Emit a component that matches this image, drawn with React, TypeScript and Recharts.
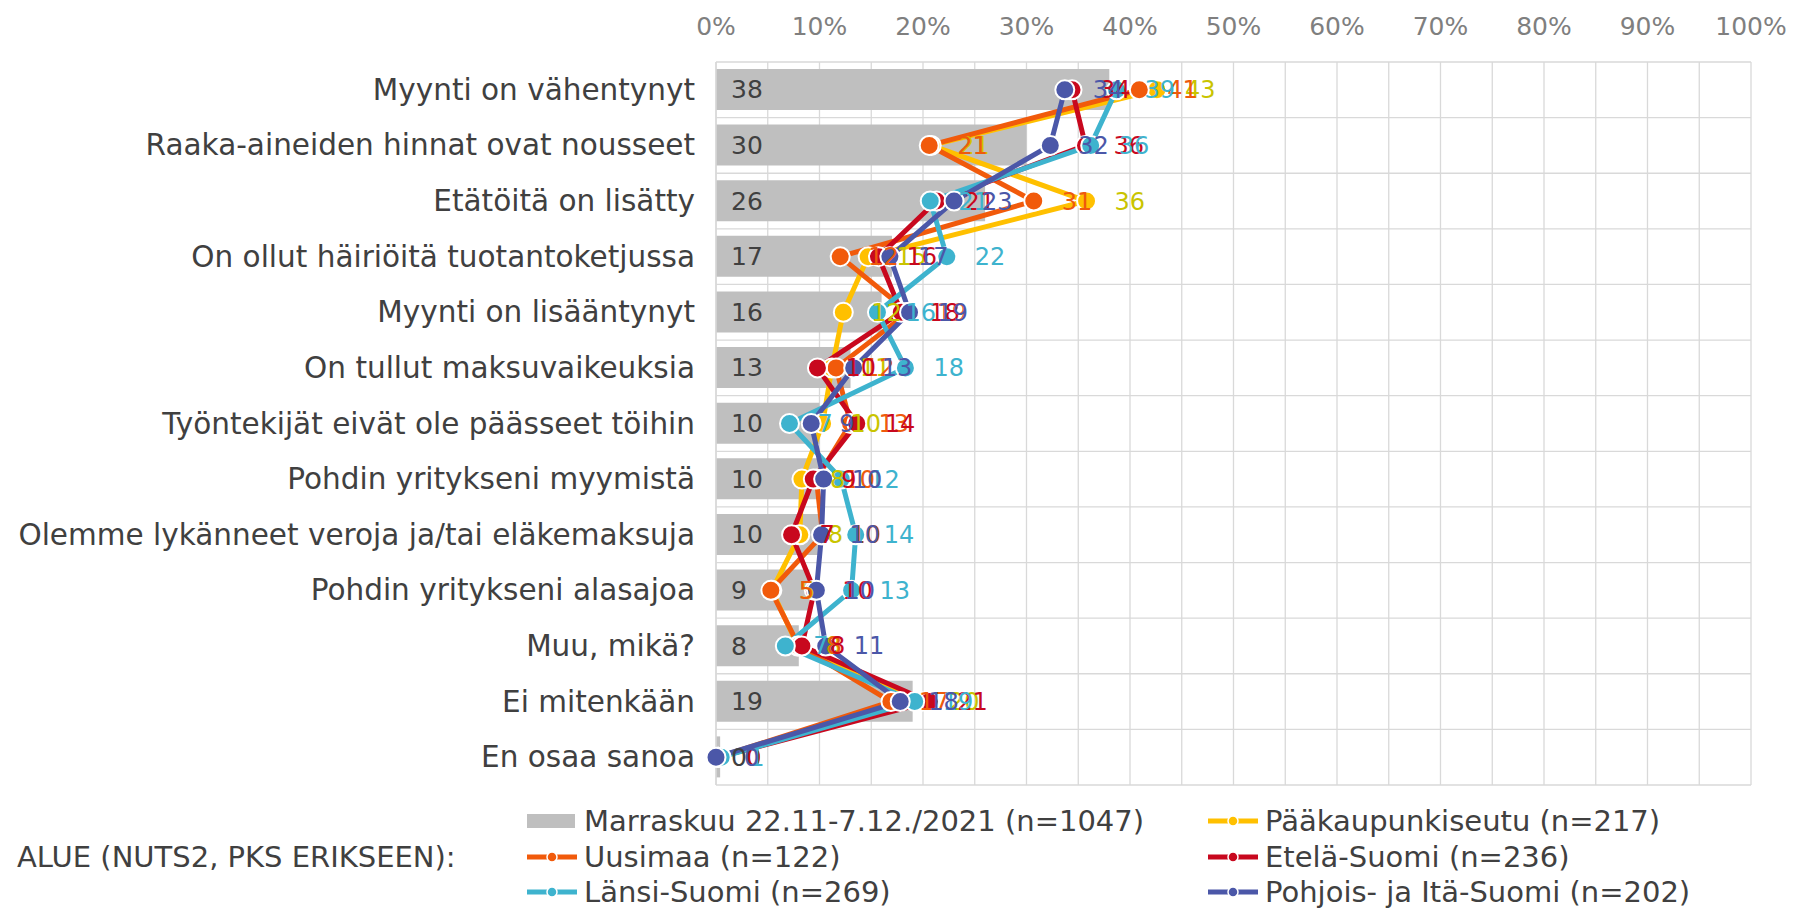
import { ComposedChart, Bar, Line, XAxis, YAxis, CartesianGrid, LabelList } from 'recharts';

const categories = [
  'Myynti on vähentynyt',
  'Raaka-aineiden hinnat ovat nousseet',
  'Etätöitä on lisätty',
  'On ollut häiriöitä tuotantoketjussa',
  'Myynti on lisääntynyt',
  'On tullut maksuvaikeuksia',
  'Työntekijät eivät ole päässeet töihin',
  'Pohdin yritykseni myymistä',
  'Olemme lykänneet veroja ja/tai eläkemaksuja',
  'Pohdin yritykseni alasajoa',
  'Muu, mikä?',
  'Ei mitenkään',
  'En osaa sanoa',
];

// koko aineisto (palkit)
const marraskuu = [38, 30, 26, 17, 16, 13, 10, 10, 10, 9, 8, 19, 0.4];
// alueet (viivat)
const paakaupunkiseutu = [42.6, 20.8, 35.8, 14.7, 12.3, 11.2, 10.3, 8.3, 8.1, 5.4, 7.9, 19.8, 0.2];
const uusimaa = [40.9, 20.6, 30.7, 12.0, 18.6, 11.6, 13.0, 9.7, 10.3, 5.3, 8.0, 16.9, 0.2];
const etelaSuomi = [34.4, 35.7, 21.3, 15.7, 17.9, 9.8, 13.6, 9.4, 7.3, 9.5, 8.3, 20.6, 0.2];
const lansiSuomi = [38.7, 36.2, 20.7, 22.3, 15.6, 18.3, 7.1, 12.1, 13.5, 13.1, 6.7, 19.2, 0.5];
const pohjoisItaSuomi = [33.7, 32.3, 23.0, 16.8, 18.7, 13.3, 9.2, 10.4, 10.2, 9.7, 10.6, 17.8, 0];

const xTicks = [0, 5, 10, 15, 20, 25, 30, 35, 40, 45, 50, 55, 60, 65, 70, 75, 80, 85, 90, 95, 100];

const FONT = '"DejaVu Sans", Verdana, sans-serif';
const TEXT = '#404040';

const series = [
  { key: 'pks', name: 'Pääkaupunkiseutu (n=217)', values: paakaupunkiseutu, color: '#FFC000', label: '#C9C400' },
  { key: 'uus', name: 'Uusimaa (n=122)', values: uusimaa, color: '#F15A0B', label: '#EE5A0C' },
  { key: 'ete', name: 'Etelä-Suomi (n=236)', values: etelaSuomi, color: '#C8081E', label: '#C8081E' },
  { key: 'lan', name: 'Länsi-Suomi (n=269)', values: lansiSuomi, color: '#3EB3CE', label: '#3EB3CE' },
  { key: 'poh', name: 'Pohjois- ja Itä-Suomi (n=202)', values: pohjoisItaSuomi, color: '#4B57A8', label: '#4B57A8' },
];

const data = categories.map((name, i) => {
  const row: Record<string, string | number> = { name, all: marraskuu[i] };
  series.forEach((s) => {
    row[s.key] = s.values[i];
  });
  return row;
});

const fmt = (v: any) => String(Math.round(Number(v)));

function CategoryTick({ x, y, payload }: any) {
  return (
    <text x={x} y={y} dy={10} textAnchor="end" fill={TEXT} fontSize={29.5} fontFamily={FONT}>
      {payload.value}
    </text>
  );
}

function Swatch({ color, bar }: { color: string; bar?: boolean }) {
  return (
    <svg width={52} height={18} style={{ display: 'block' }}>
      {bar ? (
        <rect x={0} y={2} width={48} height={14} fill="#BFBFBF" />
      ) : (
        <g>
          <line x1={0} y1={9} x2={50} y2={9} stroke={color} strokeWidth={5} />
          <circle cx={25} cy={9} r={5} fill={color} stroke="#fff" strokeWidth={1.5} />
        </g>
      )}
    </svg>
  );
}

function LegendItem({ left, top, color, text, bar }: any) {
  return (
    <div
      style={{
        position: 'absolute',
        left,
        top: top - 18,
        height: 36,
        display: 'flex',
        alignItems: 'center',
        whiteSpace: 'nowrap',
      }}
    >
      <Swatch color={color} bar={bar} />
      <span style={{ marginLeft: 5, fontSize: 29, color: TEXT, fontFamily: FONT }}>{text}</span>
    </div>
  );
}

export default function App() {
  return (
    <div style={{ position: 'absolute', left: 0, top: 0, width: 1796, height: 910, background: '#fff', fontFamily: FONT }}>
      <ComposedChart
        width={1796}
        height={800}
        data={data}
        layout="vertical"
        margin={{ top: 0, right: 45, bottom: 15, left: 0 }}
      >
        <CartesianGrid
          stroke="#D9D9D9"
          strokeWidth={1.3}
          horizontalCoordinatesGenerator={({ offset }: any) =>
            Array.from({ length: categories.length + 1 }, (_, i) => offset.top + (i * offset.height) / categories.length)
          }
        />
        <XAxis
          type="number"
          orientation="top"
          domain={[0, 100]}
          ticks={xTicks}
          interval={0}
          height={62}
          axisLine={false}
          tickLine={false}
          tickSize={0}
          tickMargin={27}
          tick={{ fill: '#7F7F7F', fontSize: 25, fontFamily: FONT }}
          tickFormatter={(v) => (v % 10 === 0 ? `${v}%` : '')}
        />
        <YAxis
          type="category"
          dataKey="name"
          width={716}
          axisLine={{ stroke: '#D9D9D9', strokeWidth: 1.5 }}
          tickLine={false}
          tickSize={0}
          tickMargin={21}
          interval={0}
          tick={<CategoryTick />}
        />
        <Bar dataKey="all" fill="#BFBFBF" barSize={41} isAnimationActive={false}>
          <LabelList
            dataKey="all"
            position="insideLeft"
            offset={15}
            fill={TEXT}
            fontSize={25}
            fontFamily={FONT}
            formatter={fmt}
          />
        </Bar>
        {series.map((s) => (
          <Line
            key={s.key}
            dataKey={s.key}
            type="linear"
            stroke={s.color}
            strokeWidth={5}
            dot={{ r: 9.5, fill: s.color, stroke: '#fff', strokeWidth: 2 }}
            activeDot={false}
            isAnimationActive={false}
          >
            <LabelList
              dataKey={s.key}
              position="right"
              offset={28}
              fill={s.label}
              fontSize={24}
              fontFamily={FONT}
              formatter={fmt}
            />
          </Line>
        ))}
      </ComposedChart>

      <LegendItem left={527} top={821} bar text="Marraskuu 22.11-7.12./2021 (n=1047)" />
      <LegendItem left={1208} top={821} color={series[0].color} text={series[0].name} />
      <div
        style={{
          position: 'absolute',
          left: 17,
          top: 857 - 18,
          height: 36,
          lineHeight: '36px',
          fontSize: 29,
          color: TEXT,
          whiteSpace: 'nowrap',
        }}
      >
        ALUE (NUTS2, PKS ERIKSEEN):
      </div>
      <LegendItem left={527} top={857} color={series[1].color} text={series[1].name} />
      <LegendItem left={1208} top={857} color={series[2].color} text={series[2].name} />
      <LegendItem left={527} top={892} color={series[3].color} text={series[3].name} />
      <LegendItem left={1208} top={892} color={series[4].color} text={series[4].name} />
    </div>
  );
}
